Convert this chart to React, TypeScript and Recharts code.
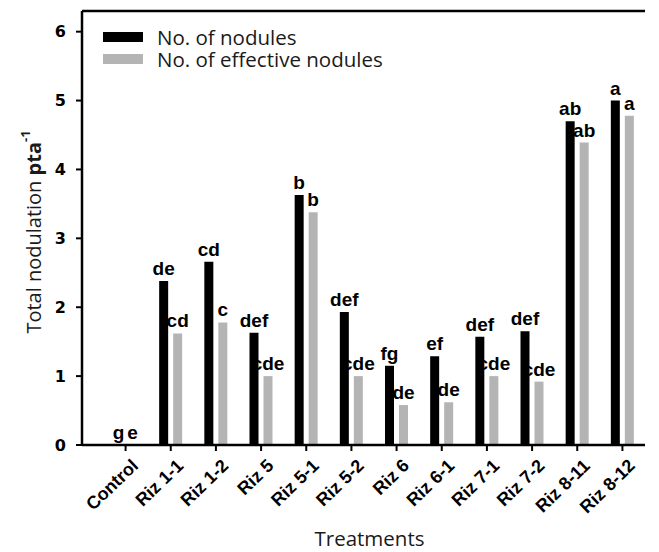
import { Bar, BarChart, LabelList, Legend, ReferenceLine, XAxis, YAxis } from "recharts";

const categories = ["Control", "Riz 1-1", "Riz 1-2", "Riz 5", "Riz 5-1", "Riz 5-2", "Riz 6", "Riz 6-1", "Riz 7-1", "Riz 7-2", "Riz 8-11", "Riz 8-12"];
const nodules = [0, 2.38, 2.66, 1.63, 3.63, 1.93, 1.15, 1.29, 1.57, 1.65, 4.7, 5.0];
const effective = [0, 1.62, 1.78, 1.0, 3.38, 1.0, 0.58, 0.62, 1.0, 0.92, 4.39, 4.78];
const noduleLetters = ["g", "de", "cd", "def", "b", "def", "fg", "ef", "def", "def", "ab", "a"];
const effectiveLetters = ["e", "cd", "c", "cde", "b", "cde", "de", "de", "cde", "cde", "ab", "a"];
const yTicks = [0, 1, 2, 3, 4, 5, 6];
const seriesOrder = ["nodules", "effective"];

const rows = categories.map((name, i) => ({
  name,
  nodules: nodules[i],
  effective: effective[i],
  nodLetter: noduleLetters[i],
  effLetter: effectiveLetters[i],
}));

const TITLE_FONT = "'Open Sans', sans-serif";
const BOLD_FONT = "'DejaVu Sans', sans-serif";
const LABEL_FONT = "'Liberation Sans', Arial, sans-serif";

// zero-height bars still need a sliver so their letters get drawn (hidden under the axis line)
const zeroSliver = (v: any) => (v === 0 ? 0.5 : 0);

function XTick({ x, y, payload }: any) {
  return (
    <g transform={`translate(${x + 6},${y + 6})`}>
      <text
        x={0}
        y={0}
        dy={11}
        textAnchor="end"
        transform="rotate(-44)"
        fontFamily={LABEL_FONT}
        fontWeight="bold"
        fontSize={18}
        fill="#000"
      >
        {payload.value}
      </text>
    </g>
  );
}

function LegendBox({ payload }: any) {
  const items = [...(payload || [])].sort(
    (a: any, b: any) => seriesOrder.indexOf(a.dataKey) - seriesOrder.indexOf(b.dataKey)
  );
  return (
    <div style={{ fontFamily: TITLE_FONT, fontSize: 20.5, color: "#1a1a1a" }}>
      {items.map((p: any) => (
        <div key={p.value} style={{ display: "flex", alignItems: "center", height: 22 }}>
          <span style={{ display: "inline-block", width: 40, height: 10, background: p.color, marginRight: 14 }} />
          <span style={{ lineHeight: "22px", whiteSpace: "nowrap" }}>{p.value}</span>
        </div>
      ))}
    </div>
  );
}

function YTitle({ viewBox }: any) {
  const cx = 33;
  const cy = viewBox.y + viewBox.height / 2 + 4;
  return (
    <text
      x={cx}
      y={cy}
      transform={`rotate(-90, ${cx}, ${cy})`}
      textAnchor="middle"
      dominantBaseline="central"
      fontFamily={TITLE_FONT}
      fontSize={20}
      fill="#1a1a1a"
    >
      Total nodulation <tspan fontWeight="bold">pta</tspan>
      <tspan fontSize={13} fontWeight="bold" dy={-8}>-1</tspan>
    </text>
  );
}

function XTitle({ viewBox }: any) {
  return (
    <text
      x={viewBox.x + viewBox.width / 2 + 6}
      y={546}
      textAnchor="middle"
      fontFamily={TITLE_FONT}
      fontSize={20.5}
      fill="#1a1a1a"
    >
      Treatments
    </text>
  );
}

const letterStyle = { fontFamily: LABEL_FONT, fontWeight: "bold", fontSize: 19, fill: "#000" };

export default function App() {
  return (
    <div style={{ position: "absolute", left: 0, top: 0, background: "#fff" }}>
      <BarChart
        width={659}
        height={552}
        data={rows}
        margin={{ top: 11, right: 14, bottom: 0, left: 0 }}
        barSize={9}
        barGap={5}
      >
        <XAxis
          dataKey="name"
          interval={0}
          padding={{ left: 21, right: 0 }}
          axisLine={{ stroke: "#000", strokeWidth: 2.5 }}
          tickLine={{ stroke: "#000", strokeWidth: 2 }}
          tickSize={6}
          tick={<XTick />}
          height={107}
          label={<XTitle />}
        />
        <YAxis
          domain={[0, 6.3]}
          ticks={yTicks}
          allowDataOverflow
          width={82}
          axisLine={{ stroke: "#000", strokeWidth: 2.5 }}
          tickLine={{ stroke: "#000", strokeWidth: 2 }}
          tickSize={6}
          tickMargin={10}
          tick={{ fontFamily: BOLD_FONT, fontWeight: "bold", fontSize: 16, fill: "#000" }}
          label={<YTitle />}
        />
        <ReferenceLine y={6.3} stroke="#000" strokeWidth={2.5} />
        <Legend
          layout="horizontal"
          verticalAlign="middle"
          align="center"
          content={<LegendBox />}
          wrapperStyle={{ left: 103, top: 26, width: 360, height: 50 }}
        />
        <Bar dataKey="nodules" name="No. of nodules" fill="#000" minPointSize={zeroSliver} isAnimationActive={false}>
          <LabelList dataKey="nodLetter" position="top" offset={6} style={letterStyle} />
        </Bar>
        <Bar dataKey="effective" name="No. of effective nodules" fill="#b4b4b4" minPointSize={zeroSliver} isAnimationActive={false}>
          <LabelList dataKey="effLetter" position="top" offset={6} style={letterStyle} />
        </Bar>
      </BarChart>
    </div>
  );
}
